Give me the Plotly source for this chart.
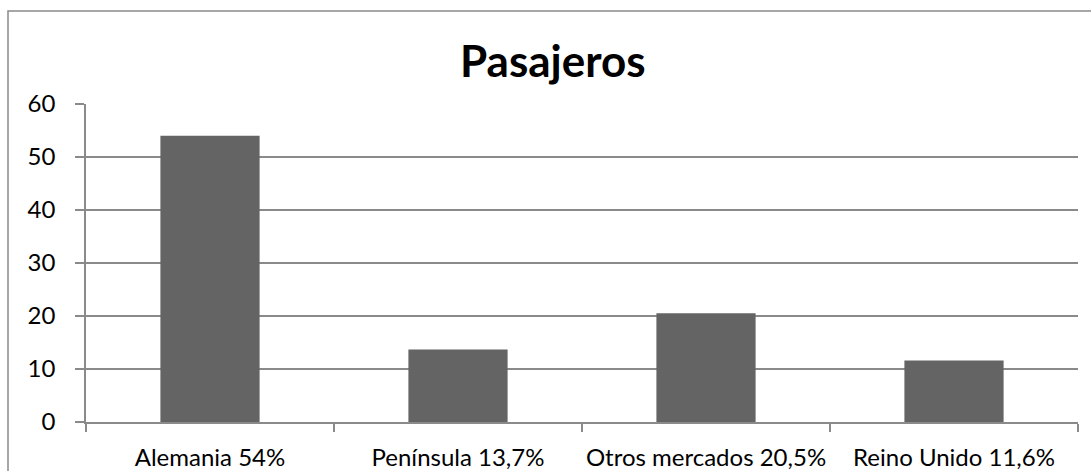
import plotly.graph_objects as go

categories = ["Alemania 54%", "Península 13,7%", "Otros mercados 20,5%", "Reino Unido 11,6%"]
values = [54, 13.7, 20.5, 11.6]
y_ticks = [0, 10, 20, 30, 40, 50, 60]
title_text = "Pasajeros"

W, H = 1091, 471
L, R, T, B = 86, 13, 104, 49
pw = W - L - R
ph = H - T - B

def px_x(x):
    return (x - L) / pw

def px_y(y):
    return (H - B - y) / ph

fig = go.Figure(go.Bar(x=categories, y=values, marker=dict(color="#646464", line=dict(width=0)), width=0.4))

grey = "#8a8a8a"
fig.update_layout(
    width=W, height=H,
    margin=dict(l=L, r=R, t=T, b=B, pad=0, autoexpand=False),
    paper_bgcolor="white", plot_bgcolor="white",
    font=dict(family="Lato", color="black", size=24),
    separators=",.",
    showlegend=False,
    bargap=0.6,
    xaxis=dict(showline=True, linecolor=grey, linewidth=1.5, ticks="outside", ticklen=8, tickcolor=grey,
               tickwidth=1.5, tickson="boundaries", showgrid=False, tickfont=dict(size=24, family="Lato"),
               ticklabelstandoff=13, tickangle=0, automargin=False),
    yaxis=dict(range=[0, 60], tickvals=y_ticks, showline=True, linecolor=grey, linewidth=1.5,
               ticks="outside", ticklen=9, tickcolor=grey, tickwidth=1.5, showgrid=True, gridcolor=grey,
               gridwidth=1.5, zeroline=False, tickfont=dict(size=24, family="Lato"), ticklabelstandoff=15,
               automargin=False),
    annotations=[dict(text="<b>" + title_text + "</b>", x=px_x(553), y=px_y(60), xref="paper", yref="paper",
                      xanchor="center", yanchor="middle", showarrow=False,
                      font=dict(family="Lato", size=44, color="black"))],
    shapes=[dict(type="rect", xref="paper", yref="paper", x0=px_x(8), x1=px_x(1100), y0=px_y(480), y1=px_y(11),
                 line=dict(color=grey, width=1.5), fillcolor="rgba(0,0,0,0)", layer="below")],
)

fig.write_html("out.html")
